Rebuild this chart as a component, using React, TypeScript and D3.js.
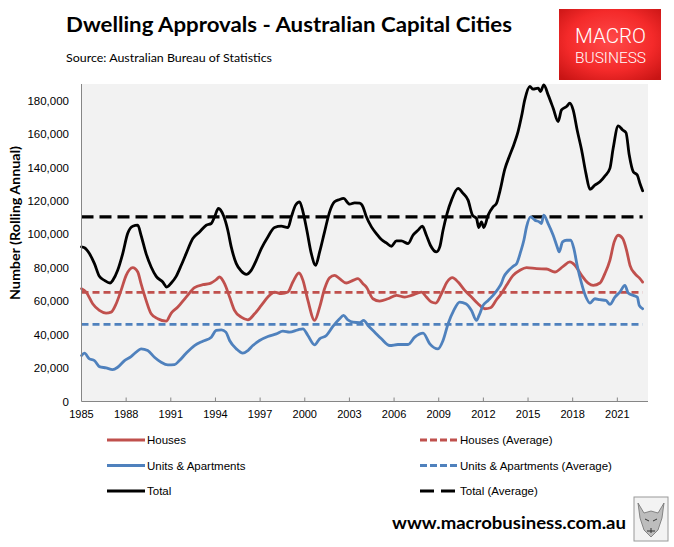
import React from "react";
import * as d3 from "d3";

const housesData: [number, number][] = [
  [1985.0, 67500], [1985.31, 65500], [1985.75, 58500], [1986.2, 54500], [1986.65, 52900], [1986.99, 53500],
  [1987.33, 58500], [1987.66, 66500], [1988.0, 75500], [1988.44, 80100], [1988.78, 77500], [1989.0, 70500],
  [1989.34, 60500], [1989.68, 52500], [1990.12, 49500], [1990.69, 48100], [1991.03, 52900], [1991.47, 56500],
  [1992.03, 62500], [1992.59, 68100], [1993.15, 69900], [1993.6, 70500], [1994.05, 72900], [1994.27, 74500],
  [1994.61, 70500], [1994.95, 62500], [1995.28, 54500], [1995.73, 50500], [1996.18, 48900], [1996.63, 52500],
  [1997.08, 57500], [1997.52, 62500], [1997.97, 65500], [1998.42, 64500], [1998.87, 65500], [1999.2, 71500],
  [1999.61, 76900], [1999.88, 72500], [2000.21, 60500], [2000.66, 48500], [2001.0, 56500], [2001.33, 67500],
  [2001.67, 74100], [2002.0, 75500], [2002.34, 73500], [2002.79, 70900], [2003.24, 72500], [2003.57, 73500],
  [2003.91, 70500], [2004.14, 68500], [2004.58, 61500], [2005.03, 60100], [2005.59, 61500], [2006.16, 63500],
  [2006.72, 62500], [2007.17, 63500], [2007.84, 65500], [2008.17, 62500], [2008.51, 59500], [2008.8, 58900],
  [2009.18, 64500], [2009.56, 71500], [2009.92, 74100], [2010.3, 71500], [2010.75, 66500], [2011.2, 62500],
  [2011.64, 58500], [2012.1, 55500], [2012.48, 56100], [2012.88, 60900], [2013.2, 64500], [2013.55, 69500],
  [2014.0, 75500], [2014.45, 78500], [2014.9, 80100], [2015.57, 79500], [2016.24, 79300], [2016.8, 77500],
  [2017.36, 80900], [2017.81, 83500], [2018.15, 81500], [2018.6, 75500], [2019.04, 70900], [2019.38, 69500],
  [2019.83, 70900], [2020.16, 76500], [2020.5, 84500], [2020.79, 95500], [2021.06, 99500], [2021.36, 97500],
  [2021.62, 90500], [2021.85, 81500], [2022.18, 76500], [2022.52, 73500], [2022.7, 71500],
];

const unitsData: [number, number][] = [
  [1985.0, 27500], [1985.2, 28900], [1985.53, 25500], [1985.87, 24500], [1986.2, 20900], [1986.65, 20100],
  [1987.1, 19100], [1987.43, 20500], [1987.89, 24500], [1988.33, 26900], [1988.67, 29500], [1989.0, 31500],
  [1989.45, 30500], [1989.9, 26500], [1990.35, 23500], [1990.8, 21900], [1991.25, 22100], [1991.58, 24500],
  [1992.03, 28900], [1992.59, 33500], [1993.15, 36100], [1993.72, 38500], [1994.05, 42500], [1994.4, 42900],
  [1994.7, 41500], [1994.95, 36500], [1995.4, 31500], [1995.84, 28900], [1996.18, 30500], [1996.51, 33500],
  [1996.96, 36500], [1997.52, 38900], [1998.09, 40500], [1998.53, 42100], [1998.98, 41500], [1999.54, 42900],
  [1999.88, 43500], [2000.21, 39500], [2000.66, 33900], [2001.0, 37500], [2001.45, 39500], [2001.89, 44900],
  [2002.34, 49500], [2002.6, 51500], [2002.9, 48900], [2003.24, 47500], [2003.69, 47200], [2003.96, 48500],
  [2004.25, 45500], [2004.7, 41500], [2005.15, 37500], [2005.71, 33500], [2006.26, 34100], [2006.94, 34100],
  [2007.39, 38500], [2007.95, 40900], [2008.4, 34500], [2008.95, 31500], [2009.29, 36500], [2009.63, 46500],
  [2010.01, 54500], [2010.41, 59500], [2010.82, 58500], [2011.2, 54500], [2011.54, 48500], [2011.71, 51500],
  [2011.98, 57500], [2012.32, 60500], [2012.65, 63500], [2012.99, 67500], [2013.2, 70500], [2013.37, 74500],
  [2013.66, 78100], [2014.0, 80900], [2014.23, 82500], [2014.5, 89500], [2014.72, 96500], [2014.9, 104500],
  [2015.17, 110500], [2015.46, 108500], [2015.75, 107500], [2015.9, 106500], [2016.06, 111500], [2016.35, 106500],
  [2016.69, 99500], [2016.96, 92500], [2017.09, 89500], [2017.32, 95500], [2017.59, 96500], [2017.86, 96500],
  [2018.08, 91500], [2018.3, 81500], [2018.6, 70500], [2018.89, 62500], [2019.16, 58900], [2019.49, 61500],
  [2019.83, 60900], [2020.23, 60500], [2020.5, 58100], [2020.84, 62500], [2021.17, 65500], [2021.51, 69500],
  [2021.73, 64900], [2022.07, 63500], [2022.34, 62500], [2022.47, 57500], [2022.7, 55500],
];

const totalData: [number, number][] = [
  [1985.0, 92500], [1985.2, 92000], [1985.53, 88500], [1985.87, 82500], [1986.2, 74900], [1986.54, 72500],
  [1986.92, 70900], [1987.1, 72500], [1987.43, 78500], [1987.77, 88500], [1988.1, 100500], [1988.44, 104900],
  [1988.78, 105500], [1989.0, 99500], [1989.34, 88500], [1989.68, 80500], [1990.02, 74900], [1990.46, 71500],
  [1990.73, 68500], [1991.03, 70900], [1991.36, 74900], [1991.7, 81500], [1992.03, 88500], [1992.48, 97500],
  [1992.93, 101500], [1993.38, 105500], [1993.72, 106500], [1993.94, 110500], [1994.2, 115500], [1994.55, 111000],
  [1994.83, 102500], [1995.06, 92500], [1995.4, 82500], [1995.73, 78100], [1996.07, 76100], [1996.4, 78500],
  [1996.74, 84500], [1997.08, 91500], [1997.52, 98500], [1997.97, 104100], [1998.42, 104900], [1998.87, 104100],
  [1999.1, 110500], [1999.38, 117500], [1999.65, 119500], [1999.88, 113500], [2000.14, 102500], [2000.44, 88500],
  [2000.73, 81500], [2001.0, 89500], [2001.33, 101500], [2001.67, 113500], [2002.0, 119500], [2002.34, 120900],
  [2002.6, 121500], [2003.02, 118100], [2003.35, 118900], [2003.69, 118700], [2003.91, 116500], [2004.14, 110500],
  [2004.48, 104500], [2004.81, 100500], [2005.15, 96900], [2005.48, 94900], [2005.82, 92900], [2006.16, 96100],
  [2006.49, 96100], [2006.94, 94500], [2007.27, 99500], [2007.61, 102500], [2007.9, 104900], [2008.17, 99500],
  [2008.44, 93500], [2008.85, 89500], [2009.07, 92500], [2009.29, 102500], [2009.56, 112500], [2009.86, 120500],
  [2010.3, 127500], [2010.64, 124500], [2010.97, 120500], [2011.27, 111500], [2011.54, 109500], [2011.69, 104100],
  [2011.87, 107500], [2012.03, 104100], [2012.32, 111500], [2012.65, 116500], [2012.88, 118500], [2013.1, 125500],
  [2013.44, 139000], [2013.78, 147500], [2014.04, 153500], [2014.33, 161500], [2014.56, 170500], [2014.78, 180500],
  [2015.12, 188500], [2015.34, 186900], [2015.68, 187500], [2015.84, 185500], [2016.06, 189500], [2016.35, 183500],
  [2016.69, 175500], [2017.02, 167500], [2017.25, 174500], [2017.59, 176500], [2017.81, 178500], [2018.03, 174500],
  [2018.3, 162500], [2018.6, 150500], [2018.89, 136500], [2019.16, 126900], [2019.49, 129500], [2019.83, 131500],
  [2020.16, 134900], [2020.5, 139500], [2020.72, 151500], [2021.06, 164900], [2021.36, 162500], [2021.58, 160900],
  [2021.8, 147500], [2022.07, 137500], [2022.34, 135500], [2022.52, 130500], [2022.7, 126100],
];

const housesAverage = 65300;
const unitsAverage = 46200;
const totalAverage = 110500;

const yTicks = [0, 20000, 40000, 60000, 80000, 100000, 120000, 140000, 160000, 180000];
const xTickYears = [1985, 1988, 1991, 1994, 1997, 2000, 2003, 2006, 2009, 2012, 2015, 2018, 2021];

const RED = "#C0504D";
const BLUE = "#4F81BD";
const BLACK = "#000000";
const FONT = "'Liberation Sans', Arial, sans-serif";
const TITLE_FONT = "Lato, 'Open Sans', sans-serif";

export default function App() {
  const W = 674, H = 547;
  const left = 81.5, right = 648, top = 84, bottom = 401.5;
  const x = d3.scaleLinear().domain([1985, 2023.06]).range([left, right]);
  const y = d3.scaleLinear().domain([0, 190000]).range([bottom, top]);
  const line = d3
    .line<[number, number]>()
    .x((d) => x(d[0]))
    .y((d) => y(d[1]))
    .curve(d3.curveMonotoneX);
  const fmt = d3.format(",");
  const xEnd = x(2022.7);

  const series = [
    { data: housesData, color: RED },
    { data: unitsData, color: BLUE },
    { data: totalData, color: BLACK },
  ];
  const avgs = [
    { v: housesAverage, color: RED, dash: "7,4", w: 2.8 },
    { v: unitsAverage, color: BLUE, dash: "7,4", w: 2.8 },
    { v: totalAverage, color: BLACK, dash: "12,6", w: 3.2 },
  ];

  const legend = [
    { label: "Houses", color: RED, dash: null, col: 0, row: 0 },
    { label: "Houses (Average)", color: RED, dash: "7,3", col: 1, row: 0 },
    { label: "Units & Apartments", color: BLUE, dash: null, col: 0, row: 1 },
    { label: "Units & Apartments (Average)", color: BLUE, dash: "7,3", col: 1, row: 1 },
    { label: "Total", color: BLACK, dash: null, col: 0, row: 2 },
    { label: "Total (Average)", color: BLACK, dash: "14,7", col: 1, row: 2 },
  ];

  return (
    <svg
      width={W}
      height={H}
      viewBox={`0 0 ${W} ${H}`}
      style={{ position: "absolute", left: 0, top: 0, background: "#fff" }}
    >
      <defs>
        <radialGradient id="logoGrad" cx="50%" cy="45%" r="70%">
          <stop offset="0%" stopColor="#ff4a4a" />
          <stop offset="60%" stopColor="#f42a2a" />
          <stop offset="100%" stopColor="#c81414" />
        </radialGradient>
      </defs>
      <rect x={0} y={0} width={W} height={H} fill="#fff" />

      {/* Title */}
      <text x={66} y={32} fontFamily={TITLE_FONT} fontWeight="bold" fontSize={20.5} textLength={446} lengthAdjust="spacingAndGlyphs" fill="#000">
        Dwelling Approvals - Australian Capital Cities
      </text>
      <text x={66} y={62} fontFamily={TITLE_FONT} fontSize={11.5} textLength={206} lengthAdjust="spacingAndGlyphs" fill="#000">
        Source: Australian Bureau of Statistics
      </text>

      {/* Logo */}
      <rect x={559} y={9} width={102} height={71} fill="url(#logoGrad)" />
      <text x={575} y={43} fontFamily="Roboto, sans-serif" fontWeight={300} fontSize={21} textLength={71} lengthAdjust="spacingAndGlyphs" fill="#fff">
        MACRO
      </text>
      <text x={575} y={63} fontFamily="Roboto, sans-serif" fontWeight={300} fontSize={15} textLength={71} lengthAdjust="spacingAndGlyphs" fill="#fff">
        BUSINESS
      </text>

      {/* Plot area */}
      <rect x={left} y={top} width={right - left} height={bottom - top} fill="#F2F2F2" />

      {/* Average lines */}
      {avgs.map((a, i) => (
        <line key={"avg" + i} x1={left} x2={xEnd} y1={y(a.v)} y2={y(a.v)} stroke={a.color} strokeWidth={a.w} strokeDasharray={a.dash} />
      ))}

      {/* Series lines */}
      {series.map((s, i) => (
        <path key={"s" + i} d={line(s.data) || ""} fill="none" stroke={s.color} strokeWidth={2.8} strokeLinejoin="round" strokeLinecap="round" />
      ))}

      {/* Axes */}
      <line x1={left} x2={left} y1={top} y2={bottom} stroke="#868686" strokeWidth={1} />
      <line x1={left} x2={right} y1={bottom} y2={bottom} stroke="#868686" strokeWidth={1} />
      {xTickYears.slice(1).map((yr) => (
        <line key={"t" + yr} x1={x(yr)} x2={x(yr)} y1={bottom} y2={bottom - 4} stroke="#868686" strokeWidth={1} />
      ))}
      {xTickYears.map((yr) => (
        <text key={"xl" + yr} x={x(yr)} y={418} textAnchor="middle" fontFamily={FONT} fontSize={11} fill="#000">
          {yr}
        </text>
      ))}
      {yTicks.map((v) => (
        <text key={"yl" + v} x={69} y={y(v) + 4} textAnchor="end" fontFamily={FONT} fontSize={11.5} fill="#000">
          {fmt(v)}
        </text>
      ))}
      <text
        transform="translate(20,223) rotate(-90)"
        textAnchor="middle"
        fontFamily={TITLE_FONT}
        fontWeight="bold"
        fontSize={13.5}
        textLength={154}
        lengthAdjust="spacingAndGlyphs"
        fill="#000"
      >
        Number (Rolling Annual)
      </text>

      {/* Legend */}
      {legend.map((l, i) => {
        const lx = l.col === 0 ? 107 : 420;
        const ly = 440 + l.row * 25.5;
        return (
          <g key={"lg" + i}>
            <line x1={lx} x2={lx + 38} y1={ly} y2={ly} stroke={l.color} strokeWidth={3} strokeDasharray={l.dash || undefined} />
            <text x={lx + 40} y={ly + 4} fontFamily={FONT} fontSize={11.5} fill="#000">
              {l.label}
            </text>
          </g>
        );
      })}

      {/* Footer */}
      <text x={392} y={529} fontFamily={TITLE_FONT} fontWeight="bold" fontSize={17} textLength={234} lengthAdjust="spacingAndGlyphs" fill="#000">
        www.macrobusiness.com.au
      </text>
      <g>
        <rect x={634} y={497} width={34} height={44} fill="#f3f3f3" stroke="#9a9a9a" strokeWidth={1} />
        <path d="M638,503 L644,513 L651,511 L658,513 L664,503 L662,518 L658,530 L651,537 L644,530 L640,518 Z" fill="#bdbdbd" stroke="#6e6e6e" strokeWidth={0.8} />
        <path d="M645,519 L649,521 M657,519 L653,521 M651,528 L651,533 M647,531 L655,531" stroke="#333" strokeWidth={1} fill="none" />
      </g>
    </svg>
  );
}
